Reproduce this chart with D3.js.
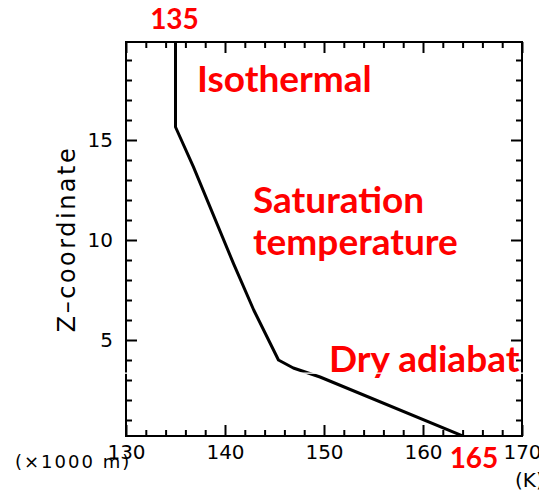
<!DOCTYPE html>
<html>
<head>
<meta charset="utf-8">
<script src="https://cdn.jsdelivr.net/npm/d3@7"></script>
<style>
  html, body { margin: 0; padding: 0; background: #fff; }
  svg { display: block; }
  .tick text { font-family: "DejaVu Sans", sans-serif; font-size: 20px; fill: #000; }
  .note { font-family: Lato, "Open Sans", sans-serif; font-weight: 700; fill: #ff0000; }
</style>
</head>
<body>
<script>
// Temperature profile: height (km) and temperature (K)
const heightKm     = [20.0, 15.65, 13.67, 8.83, 6.5, 4.0, 3.6, 3.15, 0.0];
const temperatureK = [135, 135, 136.8, 140.85, 142.9, 145.4, 146.9, 149.6, 165];

const xMajorTicks = [130, 140, 150, 160, 170];
const xMinorTicks = [132, 134, 136, 138, 142, 144, 146, 148, 152, 154, 156, 158, 162, 164, 166, 168];
const yMajorTicks = [5, 10, 15];
const yMinorTicks = [1, 2, 3, 4, 6, 7, 8, 9, 11, 12, 13, 14, 16, 17, 18, 19];

// Region annotations
const regionLabels = ["Isothermal", "Saturation", "temperature", "Dry adiabat"];
const topValue = 135;
const surfaceValue = 165;

const W = 539, H = 495;
const plot = { left: 126, right: 522, top: 42, bottom: 436 };

const svg = d3.select("body").append("svg").attr("width", W).attr("height", H);

const x = d3.scaleLinear().domain([130, 170]).range([plot.left, plot.right]);
const y = d3.scaleLinear().domain([0.2, 19.9]).range([plot.bottom, plot.top]);

svg.append("defs").append("clipPath").attr("id", "plot-clip")
  .append("rect")
  .attr("x", plot.left).attr("y", plot.top)
  .attr("width", plot.right - plot.left).attr("height", plot.bottom - plot.top);

// Profile line
const line = d3.line().x((d, i) => x(temperatureK[i])).y((d, i) => y(heightKm[i]));
svg.append("path")
  .datum(heightKm)
  .attr("clip-path", "url(#plot-clip)")
  .attr("d", line)
  .attr("fill", "none")
  .attr("stroke", "#000")
  .attr("stroke-width", 3)
  .attr("stroke-linejoin", "round");

// Axes: inward ticks on all four sides
function styleAxis(g) {
  g.select(".domain").remove();
  g.selectAll(".tick line").attr("stroke", "#000").attr("stroke-width", 2);
}
const MAJOR = 11, MINOR = 6;

svg.append("g").attr("transform", `translate(0,${plot.bottom})`)
  .call(d3.axisBottom(x).tickValues(xMajorTicks).tickSize(-MAJOR).tickPadding(9).tickFormat(d3.format("d")))
  .call(styleAxis)
  .call(g => g.selectAll("text").attr("font-family", null).attr("font-size", null));
svg.append("g").attr("transform", `translate(0,${plot.bottom})`)
  .call(d3.axisBottom(x).tickValues(xMinorTicks).tickSize(-MINOR).tickFormat(""))
  .call(styleAxis);
svg.append("g").attr("transform", `translate(0,${plot.top})`)
  .call(d3.axisTop(x).tickValues(xMajorTicks).tickSize(-MAJOR).tickFormat(""))
  .call(styleAxis);
svg.append("g").attr("transform", `translate(0,${plot.top})`)
  .call(d3.axisTop(x).tickValues(xMinorTicks).tickSize(-MINOR).tickFormat(""))
  .call(styleAxis);

svg.append("g").attr("transform", `translate(${plot.left},0)`)
  .call(d3.axisLeft(y).tickValues(yMajorTicks).tickSize(-MAJOR).tickPadding(13).tickFormat(d3.format("d")))
  .call(styleAxis)
  .call(g => g.selectAll("text").attr("font-family", null).attr("font-size", null));
svg.append("g").attr("transform", `translate(${plot.left},0)`)
  .call(d3.axisLeft(y).tickValues(yMinorTicks).tickSize(-MINOR).tickFormat(""))
  .call(styleAxis);
svg.append("g").attr("transform", `translate(${plot.right},0)`)
  .call(d3.axisRight(y).tickValues(yMajorTicks).tickSize(-MAJOR).tickFormat(""))
  .call(styleAxis);
svg.append("g").attr("transform", `translate(${plot.right},0)`)
  .call(d3.axisRight(y).tickValues(yMinorTicks).tickSize(-MINOR).tickFormat(""))
  .call(styleAxis);

// Frame
svg.append("rect")
  .attr("x", plot.left).attr("y", plot.top)
  .attr("width", plot.right - plot.left).attr("height", plot.bottom - plot.top)
  .attr("fill", "none").attr("stroke", "#000").attr("stroke-width", 2);

// Axis titles
svg.append("text")
  .attr("transform", `translate(75,${(plot.top + plot.bottom) / 2}) rotate(-90)`)
  .attr("text-anchor", "middle")
  .attr("font-family", "DejaVu Sans, sans-serif")
  .attr("font-size", 24)
  .attr("letter-spacing", 2.5)
  .text("Z–coordinate");

svg.append("text")
  .attr("x", 15).attr("y", 468)
  .attr("font-family", "DejaVu Sans, sans-serif")
  .attr("font-size", 18)
  .attr("letter-spacing", 2)
  .text("(×1000 m)");

svg.append("text")
  .attr("x", 515).attr("y", 487)
  .attr("font-family", "DejaVu Sans, sans-serif")
  .attr("font-size", 20)
  .text("(K)");

// Red annotations
const notes = svg.append("g").attr("class", "note");
notes.append("text").attr("x", x(topValue) - 1).attr("y", 29).attr("text-anchor", "middle")
  .attr("font-size", 28).text(String(topValue));
notes.append("text").attr("x", 197).attr("y", 92).attr("font-size", 37).text(regionLabels[0]);
notes.append("text").attr("x", 253).attr("y", 213).attr("font-size", 37).text(regionLabels[1]);
notes.append("text").attr("x", 253).attr("y", 255).attr("font-size", 37).text(regionLabels[2]);
notes.append("text").attr("x", 329).attr("y", 372).attr("font-size", 37).text(regionLabels[3]);
notes.append("text").attr("x", 474).attr("y", 468).attr("text-anchor", "middle")
  .attr("font-size", 28).text(String(surfaceValue));

// Thin white rule crossing the frame just below the dry-adiabat label
svg.append("rect")
  .attr("x", 110).attr("y", 372.5)
  .attr("width", 420).attr("height", 1.3)
  .attr("fill", "#fff");
</script>
</body>
</html>
